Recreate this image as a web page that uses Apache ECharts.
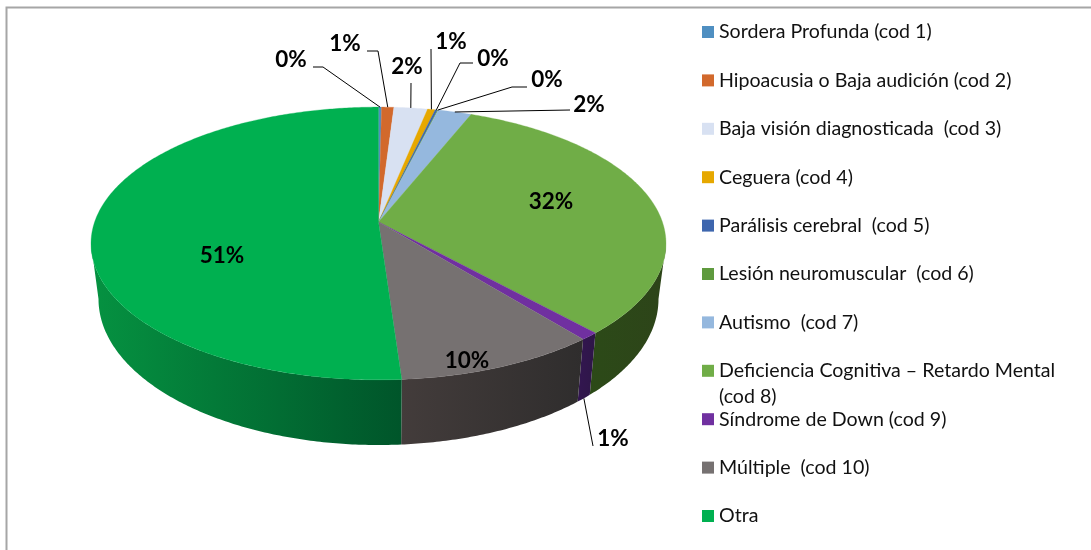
<!DOCTYPE html>
<html><head><meta charset="utf-8">
<style>html,body{margin:0;padding:0;background:#fff}#c{width:1091px;height:550px}</style>
<script src="https://cdn.jsdelivr.net/npm/echarts@6/dist/echarts.min.js"></script>
</head><body><div id="c"></div>
<script>
// ---- data ----
const categories = [
  "Sordera Profunda (cod 1)",
  "Hipoacusia o Baja audición (cod 2)",
  "Baja visión diagnosticada  (cod 3)",
  "Ceguera (cod 4)",
  "Parálisis cerebral  (cod 5)",
  "Lesión neuromuscular  (cod 6)",
  "Autismo  (cod 7)",
  "Deficiencia Cognitiva – Retardo Mental (cod 8)",
  "Síndrome de Down (cod 9)",
  "Múltiple  (cod 10)",
  "Otra"
];
const values = [0.2, 0.8, 2.2, 0.5, 0.15, 0.05, 2.2, 32.1, 0.9, 9.8, 51.1];
const labels = ["0%", "1%", "2%", "1%", "0%", "0%", "2%", "32%", "1%", "10%", "51%"];

// ---- styling and layout ----
const topColors = ["#4F8FC1", "#D2692C", "#D8E1F2", "#E6A800", "#3E66AE", "#5F9A3E", "#95B8DE", "#70AD47", "#7030A0", "#767171", "#00B050"];
const wallStops = {
  7: ["#2C4A18", "#2D4419"],
  8: ["#331650", "#2E1648"],
  9: ["#433C3B", "#2F2D2D"],
  10: ["#00552A", "#059241"]
};
const labelPos = [[291,60],[345,44],[407,67],[451,42],[493,59],[547,80],[589,105],[551,202],[613,439],[467,361],[222,256]];
const leaderVia = [[[323,67],[313,67]],[[378,51],[367,51]],[[411,83]],[[431,49]],[[460,63],[473,63]],[[512,87],[527,87]],[[570,110]],null,[[593,446]],null,null];
const PIE = {x:378.5, yTop:222, aTop:283.9, bTop:133, yBot:276, aBot:276.5, bBot:142.4, k:0.1575};
const FONT = "Lato, 'Open Sans', sans-serif";

const total = values.reduce((a,b)=>a+b,0);
function angles(i){
  let s=0; for(let j=0;j<i;j++) s+=values[j];
  return [s/total*2*Math.PI,(s+values[i])/total*2*Math.PI];
}
function pt(th,bottom){
  const u=Math.sin(th), v=Math.cos(th), w=1+PIE.k*v;
  return bottom ? [PIE.x+PIE.aBot*u/w, PIE.yBot-PIE.bBot*v/w]
                : [PIE.x+PIE.aTop*u/w, PIE.yTop-PIE.bTop*v/w];
}
function arc(a,b,bottom){
  const n=Math.max(2,Math.ceil(Math.abs(b-a)/0.01)), r=[];
  for(let i=0;i<=n;i++) r.push(pt(a+(b-a)*i/n,bottom));
  return r;
}
const wallFrom=Math.acos(-PIE.k), wallTo=2*Math.PI-wallFrom;

function renderSlice(params,api){
  const i=params.seriesIndex;
  const [a,b]=angles(i);
  const kids=[];
  const wa=Math.max(a,wallFrom), wb=Math.min(b,wallTo);
  if(wb>wa){
    const t=arc(wa,wb,false), bo=arc(wa,wb,true).reverse();
    const pts=t.concat(bo);
    const xs=pts.map(p=>p[0]);
    const stops=wallStops[i]||[topColors[i],topColors[i]];
    const x0=Math.min(...xs), x1=Math.max(...xs);
    kids.push({type:'polygon',shape:{points:pts},
      style:{fill:new echarts.graphic.LinearGradient(x0,0,x1,0,[{offset:0,color:i===10?stops[1]:stops[0]},{offset:1,color:i===10?stops[0]:stops[1]}],true)},z2:1});
  }
  kids.push({type:'polygon',shape:{points:[[PIE.x,PIE.yTop]].concat(arc(a,b,false))},
    style:{fill:topColors[i],stroke:topColors[i],lineWidth:0.3},z2:2});
  const via=leaderVia[i];
  if(via){
    const m=(a+b)/2;
    const start=i===8?pt(m,true):pt(m,false);
    kids.push({type:'polyline',shape:{points:[start].concat(via)},
      style:{stroke:'#000',lineWidth:1,fill:null},z2:5});
  }
  kids.push({type:'text',x:labelPos[i][0],y:labelPos[i][1],
    style:{text:labels[i],fill:'#000',font:"bold 22.5px "+FONT,align:'center',verticalAlign:'middle'},z2:6});
  return {type:'group',children:kids};
}

const chart=echarts.init(document.getElementById('c'),null,{renderer:'canvas'});
chart.setOption({
  animation:false,
  backgroundColor:'#fff',
  legend:{
    orient:'vertical',left:697,top:16,itemWidth:12,itemHeight:12,itemGap:26.4,
    icon:'rect',selectedMode:false,
    data:categories,
    formatter:n=>n.replace(" – Retardo Mental (cod 8)"," – Retardo Mental"),
    textStyle:{fontFamily:FONT,fontSize:19.6,color:'#111',lineHeight:22,padding:[0,0,0,0]}
  },
  graphic:[
    {type:'polyline',shape:{points:[[6.5,550],[6.5,7.5],[1091,7.5]]},style:{stroke:'#A6A6A6',lineWidth:2,fill:null}},
    {type:'text',left:719,top:387,style:{text:'(cod 8)',fill:'#111',font:"19.6px "+FONT}}
  ],
  series:categories.map((name,i)=>({
    type:'custom',name,coordinateSystem:'none',silent:true,
    itemStyle:{color:topColors[i]},
    renderItem:renderSlice,
    data:[[values[i]]]
  }))
});
</script></body></html>
